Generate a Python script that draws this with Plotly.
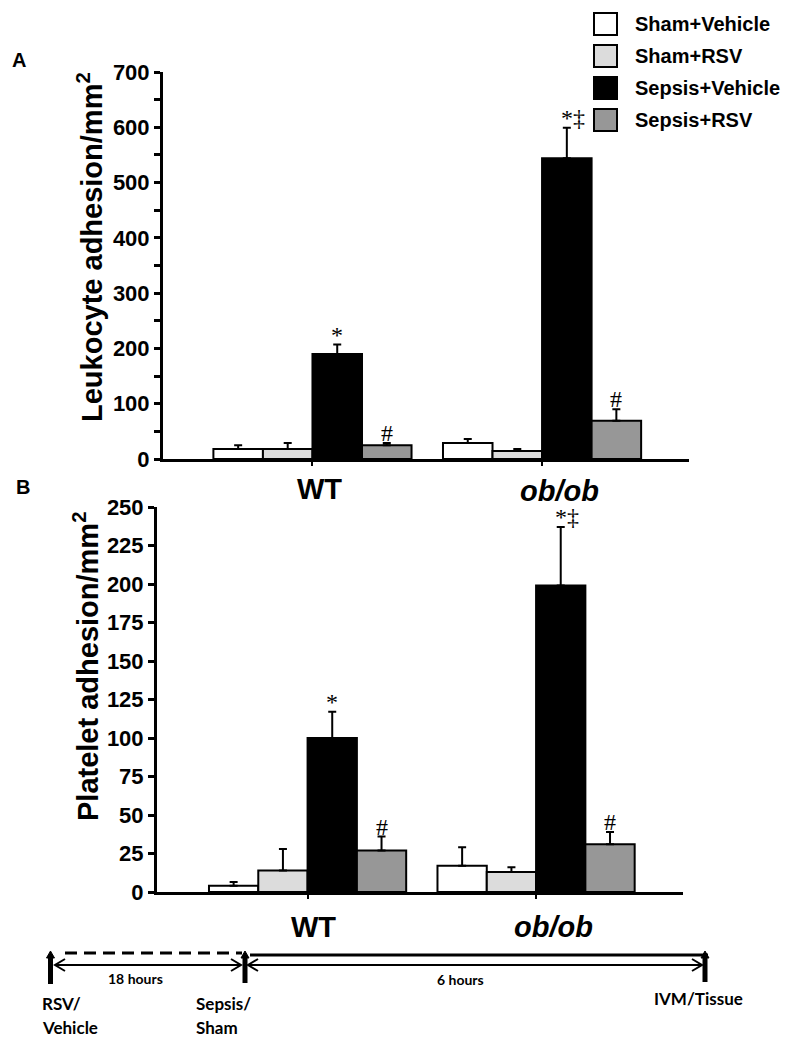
import plotly.graph_objects as go

# ---------------- data ----------------
groups = ["WT", "ob/ob"]
series = ["Sham+Vehicle", "Sham+RSV", "Sepsis+Vehicle", "Sepsis+RSV"]
colors = ["#ffffff", "#dcdcdc", "#000000", "#979797"]

leuko_vals = [[18, 29], [18, 14.5], [190, 544], [25, 69]]
leuko_err = [[7, 7], [11, 3.5], [17, 55], [4, 21]]
leuko_sig = [["", ""], ["", ""], ["*", "*\u2021"], ["#", "#"]]

plate_vals = [[4, 17], [14, 13], [100, 199], [27, 31]]
plate_err = [[2.5, 12], [14, 3], [17, 38], [9, 8]]
plate_sig = [["", ""], ["", ""], ["*", "*\u2021"], ["#", "#"]]

leuko_ticks = list(range(0, 701, 100))
plate_ticks = list(range(0, 251, 25))

W, H = 791, 1048
def X(p):
    return p / W
def Y(p):
    return 1 - p / H

BARGAP = 0.137
BW = (1 - BARGAP) / len(series)
SANS = "Liberation Sans, Arial, sans-serif"
SERIF = "Liberation Serif, Times New Roman, serif"
TL = "Lato, Open Sans, sans-serif"

fig = go.Figure()
ann = []
for panel, (vals, errs, sigs, xa, ya) in enumerate([
        (leuko_vals, leuko_err, leuko_sig, "x", "y"),
        (plate_vals, plate_err, plate_sig, "x2", "y2")]):
    for i, s in enumerate(series):
        fig.add_trace(go.Bar(
            x=groups, y=vals[i], name=s, xaxis=xa, yaxis=ya, showlegend=False,
            marker=dict(color=colors[i], line=dict(color="black", width=2)),
            error_y=dict(type="data", symmetric=False, array=errs[i],
                         arrayminus=[0] * len(groups), color="black",
                         thickness=2, width=4),
        ))
        for g in range(len(groups)):
            if sigs[i][g]:
                ann.append(dict(
                    x=g + (i - 1.5) * BW, y=vals[i][g] + errs[i][g],
                    xref=xa, yref=ya, text=sigs[i][g], showarrow=False,
                    yanchor="bottom", xanchor="center",
                    xshift=6 if len(sigs[i][g]) > 1 else 0, yshift=-5,
                    font=dict(family=SERIF, size=24, color="black")))

axis_common = dict(showline=True, linewidth=3, linecolor="black",
                   showgrid=False, zeroline=False, ticks="outside",
                   tickcolor="black", automargin=False)
fig.update_layout(
    width=W, height=H, margin=dict(l=0, r=0, t=0, b=0, autoexpand=False),
    paper_bgcolor="white", plot_bgcolor="white",
    barmode="group", bargap=BARGAP, bargroupgap=0,
    xaxis=dict(domain=[X(163), X(689)], range=[-0.651, 1.64],
               showticklabels=False, ticklen=4, tickwidth=2,
               anchor="y", **axis_common),
    yaxis=dict(domain=[Y(459), Y(72)], range=[0, 700], tickvals=leuko_ticks,
               ticklen=6, tickwidth=3, anchor="x",
               minor=dict(dtick=50, tick0=0, ticks="outside", ticklen=6,
                          tickwidth=3, tickcolor="black"),
               tickfont=dict(family=SANS, size=22, color="black", weight="bold"),
               **axis_common),
    xaxis2=dict(domain=[X(157), X(683)], range=[-0.659, 1.643],
                showticklabels=False, ticklen=4, tickwidth=2,
                anchor="y2", **axis_common),
    yaxis2=dict(domain=[Y(892), Y(507)], range=[0, 250], tickvals=plate_ticks,
                ticklen=6, tickwidth=3, anchor="x2",
                tickfont=dict(family=SANS, size=22, color="black", weight="bold"),
                **axis_common),
)

def txt(x, y, t, size, fam=SANS, xanchor="center", weight="bold", style="normal", angle=0):
    ann.append(dict(x=X(x), y=Y(y), xref="paper", yref="paper", text=t,
                    showarrow=False, xanchor=xanchor, yanchor="middle",
                    textangle=angle, align="left",
                    font=dict(family=fam, size=size, color="black",
                              weight=weight, style=style)))

# panel labels and axis titles
txt(19, 60, "A", 20)
txt(23, 487, "B", 20)
txt(90, 247, "Leukocyte adhesion/mm<sup>2</sup>", 29, angle=-90)
txt(86, 667, "Platelet adhesion/mm<sup>2</sup>", 29, angle=-90)
# group labels
txt(319, 489, "WT", 29)
txt(559, 491, "ob/ob", 29, style="italic")
txt(313, 927, "WT", 29)
txt(553, 927, "ob/ob", 29, style="italic")

# legend (manual)
shapes = []
for i, s in enumerate(series):
    top = 13 + 32 * i
    shapes.append(dict(type="rect", xref="paper", yref="paper",
                       x0=X(594), x1=X(617), y0=Y(top + 22), y1=Y(top),
                       fillcolor=colors[i], line=dict(color="black", width=2)))
    txt(633, top + 11, s, 20, xanchor="left")

# timeline
def line(x0, y0, x1, y1, w, dash="solid"):
    shapes.append(dict(type="line", xref="paper", yref="paper",
                       x0=X(x0), y0=Y(y0), x1=X(x1), y1=Y(y1),
                       line=dict(color="black", width=w, dash=dash)))

def path(pts, w=2, fill=None):
    d = "M " + " L ".join(f"{X(a):.5f},{Y(b):.5f}" for a, b in pts)
    if fill:
        d += " Z"
    shapes.append(dict(type="path", xref="paper", yref="paper", path=d,
                       line=dict(color="black", width=w),
                       fillcolor=fill if fill else "rgba(0,0,0,0)"))

line(65, 953, 242, 953, 3, dash="12px,7px")
line(250, 955, 708, 955, 3)
for (a, b) in [(55, 241), (248, 702)]:
    line(a, 965, b, 965, 2)
    path([(a + 10, 959), (a, 965), (a + 10, 971)])
    path([(b - 10, 959), (b, 965), (b - 10, 971)])
for xv, yb in [(50.5, 984), (245, 983), (705, 982)]:
    line(xv, 956, xv, yb, 5)
    path([(xv - 4, 958), (xv, 951), (xv + 4, 958)], w=1, fill="black")

txt(135, 978, "18 hours", 14, fam=TL)
txt(460, 979, "6 hours", 14, fam=TL)
txt(40, 1003, "RSV/", 17, fam=TL, xanchor="left")
txt(40, 1027, "Vehicle", 17, fam=TL, xanchor="left")
txt(194, 1003, "Sepsis/", 17, fam=TL, xanchor="left")
txt(194, 1027, "Sham", 17, fam=TL, xanchor="left")
txt(652, 998, "IVM/Tissue", 17, fam=TL, xanchor="left")

fig.update_layout(annotations=ann, shapes=shapes)
fig.write_html("out.html", config={"displayModeBar": False},
               post_script="document.body.style.margin='0';document.body.style.overflow='hidden';")
